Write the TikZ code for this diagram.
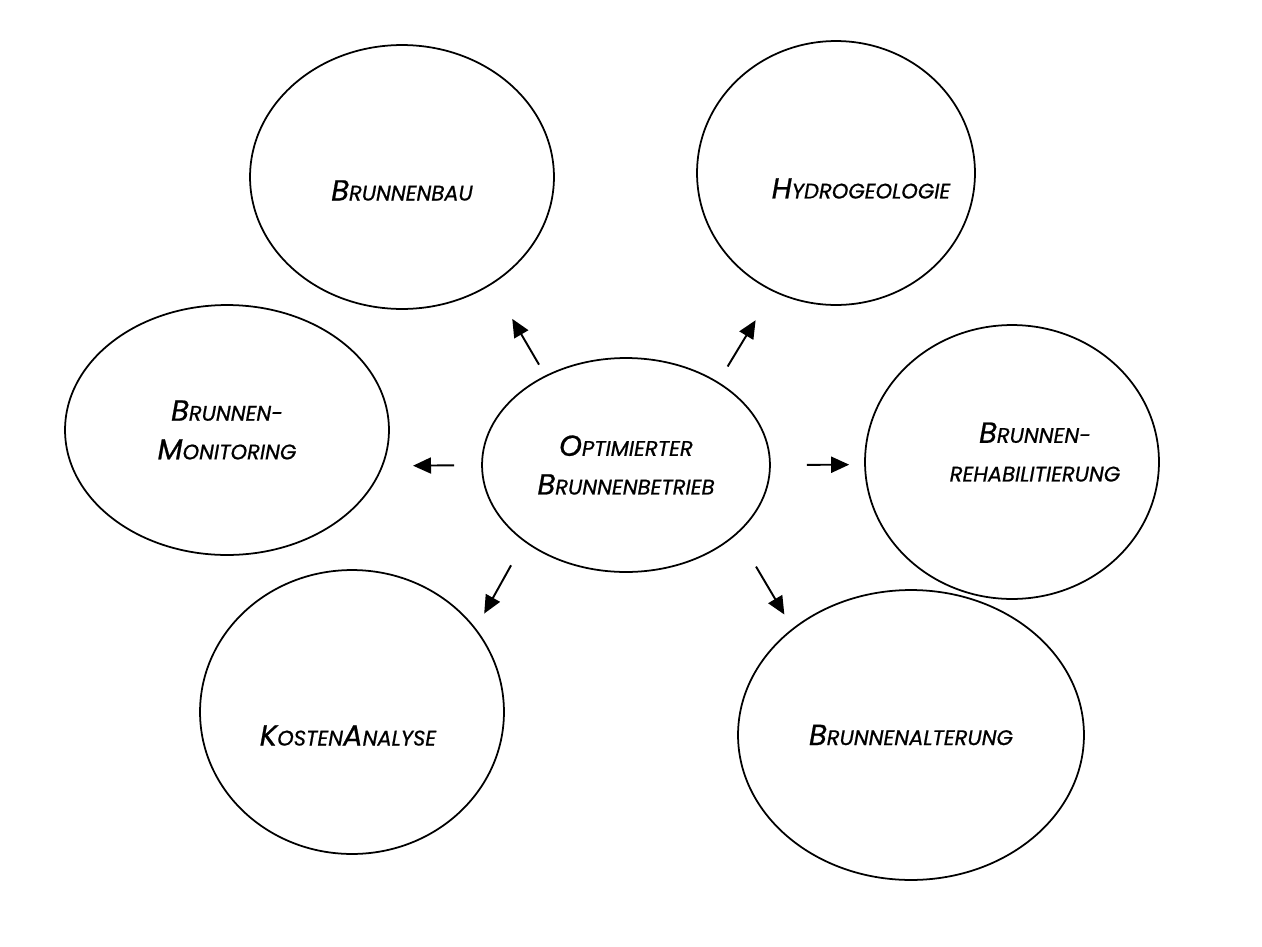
\documentclass[tikz,border=0pt]{standalone}
\usepackage{fontspec}
\newfontfamily\gothic[ItalicFeatures={FakeBold=0.8}]{Poppins}
\usepackage{tikz}
\usetikzlibrary{shapes.geometric}
\usetikzlibrary{arrows.meta}
\newcommand{\kap}[1]{{\fontsize{12}{14}\selectfont #1}}
\newcommand{\versatz}[3]{\makebox[0pt]{\hspace*{#1}\raisebox{#2}[0pt][0pt]{#3}}}

\begin{document}
\begin{tikzpicture}[
  x=0.02cm, y=-0.02cm,
  feld/.style={draw, ellipse, line width=1pt, inner sep=0pt, align=center,
    font=\gothic\itshape\fontsize{16.5}{22}\selectfont},
  pfeil/.style={-{Triangle[length=0.36cm, width=0.32cm]}, line width=1.1pt},
]
\useasboundingbox (0,0) rectangle (1262,947);

% center
\node [feld, minimum width=5.76cm, minimum height=4.28cm] (opt) at (626,465)
  {O\kap{PTIMIERTER}\\B\kap{RUNNENBETRIEB}};

% outer fields
\node [feld, minimum width=6.08cm, minimum height=5.28cm] (bau) at (402,177)
  {\versatz{0cm}{-0.47cm}{B\kap{RUNNENBAU}}};
\node [feld, minimum width=5.56cm, minimum height=5.28cm] (hydro) at (836,173)
  {\versatz{1cm}{-0.51cm}{H\kap{YDROGEOLOGIE}}};
\node [feld, minimum width=6.48cm, minimum height=5.0cm] (mon) at (227,430)
  {B\kap{RUNNEN-}\\M\kap{ONITORING}};
\node [feld, minimum width=5.88cm, minimum height=5.48cm] (reha) at (1012,462)
  {\versatz{0.92cm}{0cm}{\begin{tabular}{@{}c@{}}B\kap{RUNNEN-}\\\kap{REHABILITIERUNG}\end{tabular}}};
\node [feld, minimum width=6.08cm, minimum height=5.68cm] (kosten) at (352,712)
  {\versatz{-0.16cm}{-0.67cm}{K\kap{OSTEN}A\kap{NALYSE}}};
\node [feld, minimum width=6.92cm, minimum height=5.8cm] (alter) at (911,735)
  {B\kap{RUNNENALTERUNG}};

% arrows
\draw [pfeil, shorten <=0.25cm, shorten >=0.8cm] (opt.132) -- (bau.-50);
\draw [pfeil, shorten <=0.36cm, shorten >=0.67cm] (opt.42) -- (hydro.-118);
\draw [pfeil, shorten <=0.54cm, shorten >=0.6cm] (opt.180) -- (mon.-13);
\draw [pfeil, shorten <=0.72cm, shorten >=0.3cm] (opt.0) -- (reha.181);
\draw [pfeil, shorten <=0.54cm, shorten >=0.34cm] (opt.217) -- (kosten.34.5);
\draw [pfeil, shorten <=0.75cm, shorten >=0.32cm] (opt.-32) -- (alter.138.5);
\end{tikzpicture}
\end{document}
